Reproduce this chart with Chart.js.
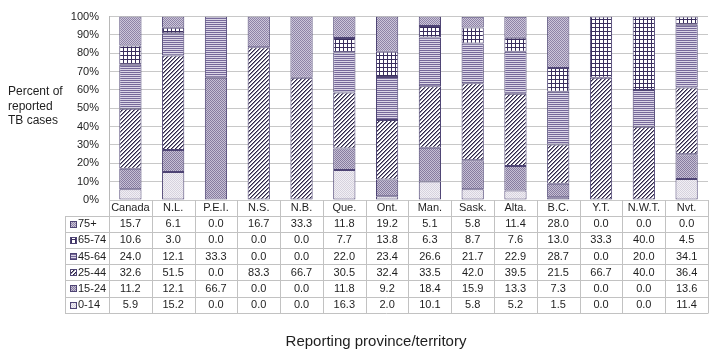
<!DOCTYPE html>
<html><head><meta charset="utf-8">
<script src="https://cdn.jsdelivr.net/npm/chart.js@4.4.0/dist/chart.umd.min.js"></script>
<style>html,body{margin:0;padding:0;background:#fff;}#wrap{width:720px;height:359px;position:relative;}</style>
</head><body><div id="wrap"><canvas id="c" width="720" height="359"></canvas></div>
<script>
const categories = ['Canada','N.L.','P.E.I.','N.S.','N.B.','Que.','Ont.','Man.','Sask.','Alta.','B.C.','Y.T.','N.W.T.','Nvt.'];
const age75plus = [15.7, 6.1, 0.0, 16.7, 33.3, 11.8, 19.2, 5.1, 5.8, 11.4, 28.0, 0.0, 0.0, 0.0];
const age65to74 = [10.6, 3.0, 0.0, 0.0, 0.0, 7.7, 13.8, 6.3, 8.7, 7.6, 13.0, 33.3, 40.0, 4.5];
const age45to64 = [24.0, 12.1, 33.3, 0.0, 0.0, 22.0, 23.4, 26.6, 21.7, 22.9, 28.7, 0.0, 20.0, 34.1];
const age25to44 = [32.6, 51.5, 0.0, 83.3, 66.7, 30.5, 32.4, 33.5, 42.0, 39.5, 21.5, 66.7, 40.0, 36.4];
const age15to24 = [11.2, 12.1, 66.7, 0.0, 0.0, 11.8, 9.2, 18.4, 15.9, 13.3, 7.3, 0.0, 0.0, 13.6];
const age0to14 = [5.9, 15.2, 0.0, 0.0, 0.0, 16.3, 2.0, 10.1, 5.8, 5.2, 1.5, 0.0, 0.0, 11.4];
const seriesLabels = ['0-14','15-24','25-44','45-64','65-74','75+'];
const yTickValues = [0,10,20,30,40,50,60,70,80,90,100];
const yTitleLines = ['Percent of','reported','TB cases'];
const xTitle = 'Reporting province/territory';

const FONT = '"Liberation Sans", Arial, sans-serif';
const TEXT = '#1e1e1e';
const BORDER = '#4e4474';

function makePattern(w, h, draw){
  const c = document.createElement('canvas'); c.width = w; c.height = h;
  const g = c.getContext('2d'); draw(g);
  return g.createPattern(c, 'repeat');
}
const pat = {
  '0-14': makePattern(2,2,g=>{g.fillStyle='#f1eff4';g.fillRect(0,0,2,2);g.fillStyle='#d6d2de';g.fillRect(0,0,1,1);g.fillRect(1,1,1,1);}),
  '15-24': makePattern(2,2,g=>{g.fillStyle='#c6c0d4';g.fillRect(0,0,2,2);g.fillStyle='#877c a0'.replace(' ','');g.fillRect(0,0,1,1);g.fillRect(1,1,1,1);}),
  '25-44': makePattern(4,4,g=>{g.fillStyle='#ffffff';g.fillRect(0,0,4,4);
      for(let x=0;x<4;x++)for(let y=0;y<4;y++){const k=(x+y)%4; if(k===3){g.fillStyle='#2e2744';g.fillRect(x,y,1,1);} else if(k===0){g.fillStyle='#8a84a0';g.fillRect(x,y,1,1);}}}),
  '45-64': makePattern(2,2,g=>{g.fillStyle='#dcd7e7';g.fillRect(0,0,2,2);g.fillStyle='#76699a';g.fillRect(0,0,2,1);}),
  '65-74': makePattern(4,4,g=>{g.fillStyle='#ffffff';g.fillRect(0,0,4,4);g.fillStyle='#3a2e5e';g.fillRect(3,0,1,4);g.fillRect(0,3,4,1);}),
  '75+': makePattern(2,2,g=>{g.fillStyle='#ccc6d9';g.fillRect(0,0,2,2);g.fillStyle='#8e83a7';g.fillRect(0,0,1,1);g.fillRect(1,1,1,1);})
};
const seriesData = {'0-14':age0to14,'15-24':age15to24,'25-44':age25to44,'45-64':age45to64,'65-74':age65to74,'75+':age75plus};

const datasets = seriesLabels.map(l => ({
  label: l,
  data: seriesData[l].map(v => v === 0 ? null : v),
  backgroundColor: pat[l],
  borderColor: BORDER,
  borderWidth: 1,
  borderSkipped: false,
  barPercentage: 0.52,
  categoryPercentage: 1.0
}));

const tablePlugin = {
  id: 'tablePlugin',
  afterDraw(chart){
    const ctx = chart.ctx, xs = chart.scales.x, area = chart.chartArea;
    const n = categories.length;
    const catW = (area.right - area.left) / n;
    const rowTop = 215.5, rowH = 16.2;
    const rows = seriesLabels.slice().reverse();
    const bottom = rowTop + rowH * rows.length;
    const colLeft = 65;
    ctx.save();
    ctx.strokeStyle = '#c2c2c2'; ctx.lineWidth = 1;
    const line = (x1,y1,x2,y2)=>{ctx.beginPath();ctx.moveTo(x1,y1);ctx.lineTo(x2,y2);ctx.stroke();};
    for (let r = 0; r <= rows.length; r++){
      const y = Math.round(rowTop + r*rowH) + 0.5;
      line(colLeft, y, area.right, y);
    }
    line(colLeft+0.5, Math.round(rowTop)+0.5, colLeft+0.5, Math.round(bottom)+0.5);
    for (let i = 0; i <= n; i++){
      const xb = i < n ? xs.getPixelForValue(i) - catW/2 : xs.getPixelForValue(n-1) + catW/2;
      const xx = Math.round(xb) + 0.5;
      line(xx, area.bottom, xx, Math.round(bottom)+0.5);
    }
    ctx.fillStyle = TEXT;
    ctx.font = '11px ' + FONT;
    ctx.textAlign = 'center'; ctx.textBaseline = 'middle';
    categories.forEach((c,i)=> ctx.fillText(c, xs.getPixelForValue(i), 208));
    rows.forEach((l, r) => {
      const cy = rowTop + r*rowH + rowH/2;
      ctx.textAlign = 'center';
      ctx.fillStyle = TEXT;
      seriesData[l].forEach((v,i)=> ctx.fillText(v.toFixed(1), xs.getPixelForValue(i), cy+0.5));
      ctx.fillStyle = pat[l];
      ctx.fillRect(70, Math.round(cy-3), 6, 6);
      ctx.strokeStyle = BORDER;
      ctx.strokeRect(70.5, Math.round(cy-3)+0.5, 6, 6);
      ctx.fillStyle = TEXT;
      ctx.textAlign = 'left';
      ctx.fillText(l, 78, cy+0.5);
    });
    ctx.font = '15px ' + FONT;
    ctx.textAlign = 'center';
    ctx.fillText(xTitle, 376, 342);
    ctx.font = '12px ' + FONT;
    ctx.textAlign = 'left';
    yTitleLines.forEach((t,k)=> ctx.fillText(t, 8, 92 + k*14.5));
    ctx.restore();
  }
};

Chart.defaults.font.family = FONT;
Chart.defaults.color = TEXT;

new Chart(document.getElementById('c'), {
  type: 'bar',
  data: { labels: categories, datasets },
  options: {
    responsive: false,
    animation: false,
    devicePixelRatio: 1,
    layout: { padding: { top: 12, right: 12, bottom: 159, left: 0 } },
    plugins: { legend: { display: false }, tooltip: { enabled: false } },
    scales: {
      x: { stacked: true, display: false },
      y: {
        stacked: true, min: 0, max: 100,
        afterBuildTicks: s => { s.ticks = yTickValues.map(v => ({ value: v })); },
        afterFit: s => { s.width = 109; },
        ticks: { callback: v => v + '%', font: { size: 11 }, color: TEXT, padding: 10 },
        grid: { color: '#c8c8c8', drawTicks: false },
        border: { display: true, color: '#b8b8b8' }
      }
    }
  },
  plugins: [tablePlugin]
});
</script></body></html>
